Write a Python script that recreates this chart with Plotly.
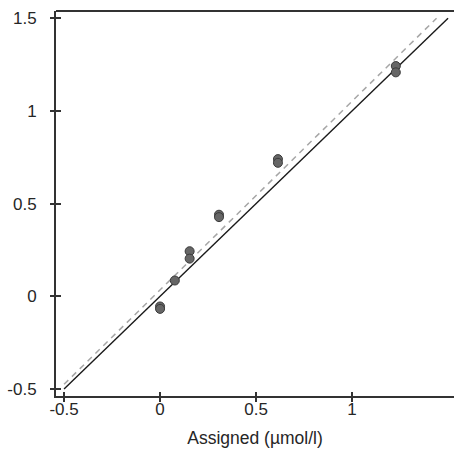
import plotly.graph_objects as go

# Data
assigned = [0, 0, 0.077, 0.154, 0.154, 0.307, 0.307, 0.614, 0.614, 1.228, 1.228]
measured = [-0.055, -0.068, 0.085, 0.243, 0.203, 0.44, 0.427, 0.74, 0.72, 1.242, 1.208]

identity_x = [-0.5, 1.5]
identity_y = [-0.5, 1.5]

fit_x = [-0.5, 1.44]
fit_intercept = 0.034
fit_slope = 1.018
fit_y = [fit_intercept + fit_slope * v for v in fit_x]

tick_vals = [-0.5, 0, 0.5, 1, 1.5]
x_tick_vals = [-0.5, 0, 0.5, 1]
x_tick_text = ["-0.5", "0", "0.5", "1"]
y_tick_text = ["-0.5", "0", "0.5", "1", "1.5"]

x_range = [-0.542, 1.531]
y_range = [-0.538, 1.539]

font = dict(family="Liberation Sans, Arial, sans-serif", size=17, color="#262626")
title_font = dict(family="Liberation Sans, Arial, sans-serif", size=17.5, color="#262626")
axis_col = "#333333"

fig = go.Figure()
fig.add_trace(go.Scatter(x=fit_x, y=fit_y, mode="lines",
                         line=dict(color="#a6a6a6", width=1.5, dash="6px,5px"),
                         showlegend=False, hoverinfo="skip"))
fig.add_trace(go.Scatter(x=identity_x, y=identity_y, mode="lines",
                         line=dict(color="#1a1a1a", width=1.4),
                         showlegend=False, hoverinfo="skip"))
fig.add_trace(go.Scatter(x=assigned, y=measured, mode="markers",
                         marker=dict(size=9, color="#666666",
                                     line=dict(color="#3a3a3a", width=1)),
                         showlegend=False))

fig.update_layout(
    width=454, height=452,
    margin=dict(l=56, r=0, t=11, b=56),
    paper_bgcolor="white", plot_bgcolor="white",
    font=font,
    xaxis=dict(range=x_range, showgrid=False, zeroline=False,
               showline=True, linecolor=axis_col, linewidth=2,
               ticks="outside", ticklen=4, tickwidth=1.5, tickcolor=axis_col,
               tickvals=x_tick_vals, ticktext=x_tick_text, ticklabelstandoff=-7,
               title=dict(text="Assigned (µmol/l)", standoff=13, font=title_font)),
    yaxis=dict(range=y_range, showgrid=False, zeroline=False,
               showline=True, linecolor=axis_col, linewidth=2,
               ticks="outside", ticklen=4, tickwidth=1.5, tickcolor=axis_col,
               tickvals=tick_vals, ticktext=y_tick_text, ticklabelstandoff=10),
    xaxis2=dict(range=x_range, overlaying="x", side="bottom", showgrid=False,
                zeroline=False, showline=False, showticklabels=False,
                ticks="inside", ticklen=4, tickwidth=1.5, tickcolor=axis_col,
                tickvals=x_tick_vals),
    yaxis2=dict(range=y_range, overlaying="y", side="left", showgrid=False,
                zeroline=False, showline=False, showticklabels=False,
                ticks="inside", ticklen=5, tickwidth=1.5, tickcolor=axis_col,
                tickvals=tick_vals),
    shapes=[dict(type="line", xref="paper", yref="paper", x0=0, x1=1, y0=1, y1=1,
                 line=dict(color=axis_col, width=2))],
)
# dummy trace to activate secondary axes
fig.add_trace(go.Scatter(x=[None], y=[None], xaxis="x2", yaxis="y2",
                         showlegend=False, hoverinfo="skip"))

fig.write_html("out.html", config={"displayModeBar": False},
               post_script="document.body.style.margin='0';document.documentElement.style.overflow='hidden';")
